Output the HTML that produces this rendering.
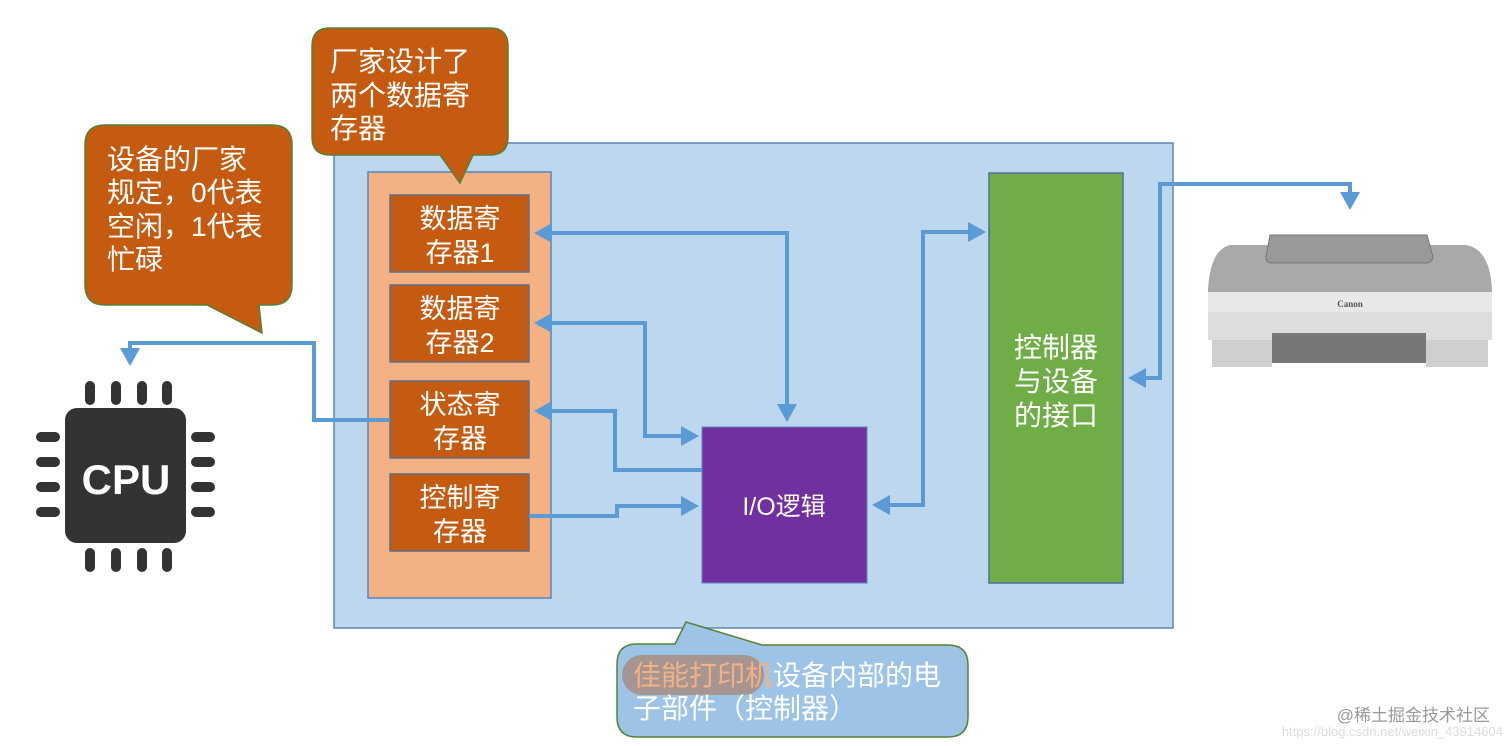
<!DOCTYPE html>
<html><head><meta charset="utf-8"><style>
html,body{margin:0;padding:0;background:#fff;}
svg{display:block;font-family:"Liberation Sans","Noto Sans CJK SC",sans-serif;}
</style></head><body>
<svg width="1512" height="746" viewBox="0 0 1512 746" xmlns="http://www.w3.org/2000/svg">
<defs>
<marker id="ah" markerWidth="5" markerHeight="5" refX="3.5" refY="2.5" orient="auto-start-reverse" markerUnits="strokeWidth">
<path d="M0,0 L4.5,2.5 L0,5 Z" fill="#5b9bd5"/></marker>
</defs>
<!-- main box -->
<rect x="334" y="143" width="839" height="485" fill="#bdd7ee" stroke="#5b86b8" stroke-width="1.5"/>
<rect x="368" y="172" width="183" height="426" fill="#f4b183" stroke="#5b86b8" stroke-width="1.5"/>
<g fill="#c55a11" stroke="#5b6f8f" stroke-width="1.5">
<rect x="390" y="195" width="139" height="77"/>
<rect x="390" y="285" width="139" height="77"/>
<rect x="390" y="381" width="139" height="77"/>
<rect x="390" y="474" width="139" height="77"/>
</g>
<g fill="#fff" font-size="27" text-anchor="middle">
<text x="460" y="228">数据寄</text><text x="460" y="262">存器1</text>
<text x="460" y="318">数据寄</text><text x="460" y="352">存器2</text>
<text x="460" y="414">状态寄</text><text x="460" y="448">存器</text>
<text x="460" y="507">控制寄</text><text x="460" y="541">存器</text>
</g>
<rect x="702" y="427" width="165" height="156" fill="#7030a0" stroke="#5b86b8" stroke-width="1"/>
<text x="784" y="515" fill="#fff" font-size="25" text-anchor="middle">I/O逻辑</text>
<rect x="989" y="173" width="134" height="410" fill="#70ad47" stroke="#4a6fa0" stroke-width="1.5"/>
<g fill="#fff" font-size="28" text-anchor="middle">
<text x="1056" y="357">控制器</text><text x="1056" y="391">与设备</text><text x="1056" y="425">的接口</text>
</g>
<!-- arrows -->
<g fill="none" stroke="#5b9bd5" stroke-width="4">
<path d="M390,420 H314 V343 H130 V362" marker-end="url(#ah)"/>
<path d="M787,418 V233 H538" marker-end="url(#ah)" marker-start="url(#ah)"/>
<path d="M695,436 H645 V323 H538" marker-end="url(#ah)" marker-start="url(#ah)"/>
<path d="M702,470 H615 V411 H538" marker-end="url(#ah)"/>
<path d="M529,516 H617 V506 H695" marker-end="url(#ah)"/>
<path d="M982,232 H923 V505 H876" marker-end="url(#ah)" marker-start="url(#ah)"/>
<path d="M1350,206 V184 H1160 V378 H1132" marker-end="url(#ah)" marker-start="url(#ah)"/>
</g>
<!-- callouts -->
<path d="M330,28 H490 Q508,28 508,46 V137 Q508,155 490,155 H473 L460,183 L440,155 H330 Q312,155 312,137 V46 Q312,28 330,28 Z" fill="#c55a11" stroke="#548235" stroke-width="1.5"/>
<g fill="#fff" font-size="28"><text x="330" y="71">厂家设计了</text><text x="330" y="105">两个数据寄</text><text x="330" y="138">存器</text></g>
<path d="M105,125 H272 Q292,125 292,145 V285 Q292,305 272,305 H259 L262,333 L207,305 H105 Q85,305 85,285 V145 Q85,125 105,125 Z" fill="#c55a11" stroke="#548235" stroke-width="1.5"/>
<g fill="#fff" font-size="28"><text x="107" y="169">设备的厂家</text><text x="107" y="202">规定，0代表</text><text x="107" y="236">空闲，1代表</text><text x="107" y="269">忙碌</text></g>
<path d="M637,644 H675 L686,622 L762,645 H948 Q968,645 968,665 V717 Q968,737 948,737 H637 Q617,737 617,717 V664 Q617,644 637,644 Z" fill="#9dc3e6" stroke="#548235" stroke-width="1.5"/>
<rect x="622" y="655" width="142" height="40" rx="20" fill="#a98a7a" opacity="0.8"/>
<g font-size="28"><text x="633" y="685"><tspan fill="#f4b183">佳能打印机</tspan><tspan fill="#fff">设备内部的电</tspan></text><text x="633" y="718" fill="#fff">子部件（控制器）</text></g>
<!-- CPU -->
<g fill="#333">
<rect x="65" y="408" width="121" height="135" rx="12"/>
<rect x="85" y="381" width="10" height="24" rx="5"/><rect x="111" y="381" width="10" height="24" rx="5"/><rect x="137" y="381" width="10" height="24" rx="5"/><rect x="162" y="381" width="10" height="24" rx="5"/>
<rect x="85" y="548" width="10" height="24" rx="5"/><rect x="111" y="548" width="10" height="24" rx="5"/><rect x="137" y="548" width="10" height="24" rx="5"/><rect x="162" y="548" width="10" height="24" rx="5"/>
<rect x="36" y="432" width="24" height="10" rx="5"/><rect x="36" y="457" width="24" height="10" rx="5"/><rect x="36" y="482" width="24" height="10" rx="5"/><rect x="36" y="507" width="24" height="10" rx="5"/>
<rect x="191" y="432" width="24" height="10" rx="5"/><rect x="191" y="457" width="24" height="10" rx="5"/><rect x="191" y="482" width="24" height="10" rx="5"/><rect x="191" y="507" width="24" height="10" rx="5"/>
</g>
<text x="126" y="494" fill="#fff" font-size="42" font-weight="bold" text-anchor="middle">CPU</text>
<!-- printer -->
<path d="M1230,245 H1465 Q1490,248 1492,290 V340 H1208 V290 Q1210,250 1230,245 Z" fill="#a9a9a9"/>
<path d="M1270,235 H1427 L1433,257 Q1432,263 1425,263 H1272 Q1266,263 1266,257 Z" fill="#999" stroke="#777"/>
<rect x="1208" y="292" width="284" height="20" fill="#e8e8e8"/>
<rect x="1208" y="312" width="284" height="28" fill="#ddd"/>
<rect x="1212" y="340" width="60" height="27" fill="#cfcfcf"/>
<rect x="1426" y="340" width="62" height="27" fill="#cfcfcf"/>
<rect x="1272" y="333" width="154" height="30" fill="#777"/>
<text x="1350" y="307" font-size="9" fill="#555" text-anchor="middle" font-family="Liberation Serif,serif" font-weight="bold">Canon</text>
<text x="1490" y="721" font-size="17" fill="#999" text-anchor="end">@稀土掘金技术社区</text>
<text x="1503" y="736" font-size="13" fill="#ddd" text-anchor="end">https://blog.csdn.net/weixin_43914604</text>
</svg>
</body></html>
